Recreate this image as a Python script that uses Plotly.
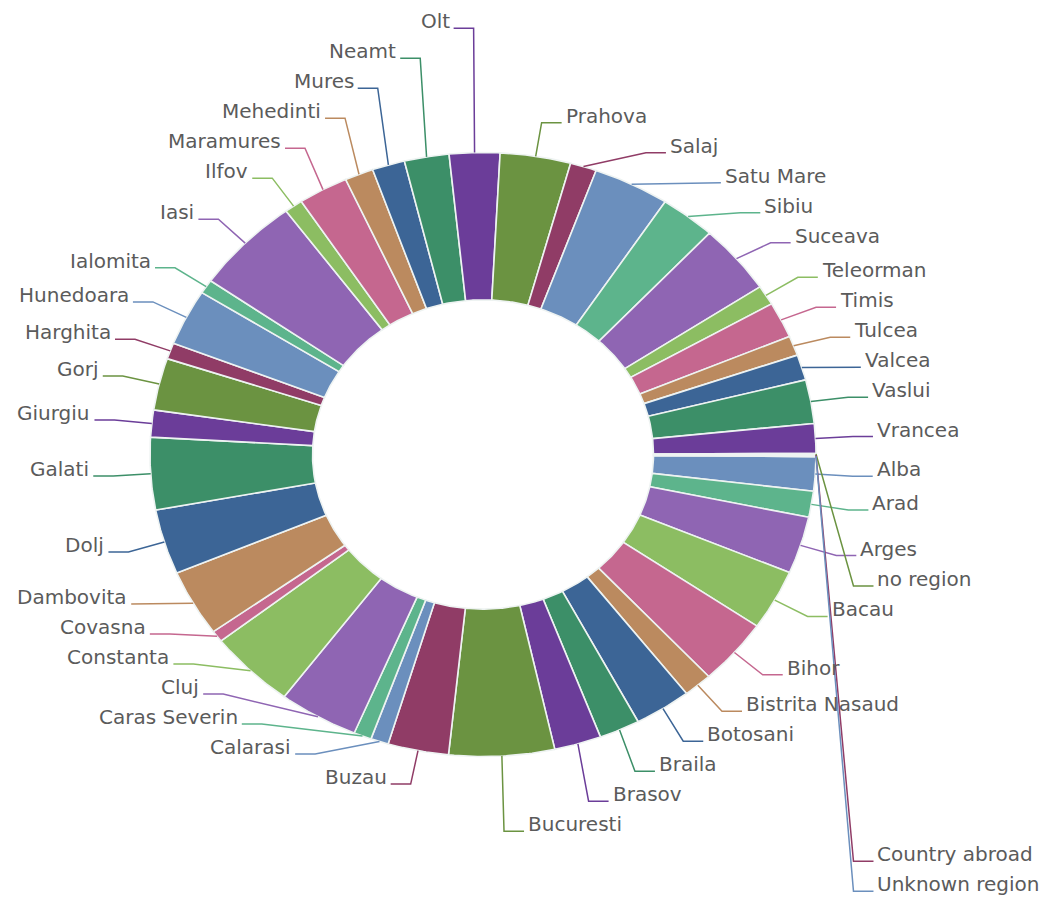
import math
import plotly.graph_objects as go

# ---------------- data ----------------
regions = ["Alba", "Arad", "Arges", "Bacau", "Bihor", "Bistrita Nasaud", "Botosani",
           "Braila", "Brasov", "Bucuresti", "Buzau", "Calarasi", "Caras Severin", "Cluj",
           "Constanta", "Covasna", "Dambovita", "Dolj", "Galati", "Giurgiu", "Gorj",
           "Harghita", "Hunedoara", "Ialomita", "Iasi", "Ilfov", "Maramures", "Mehedinti",
           "Mures", "Neamt", "Olt", "Prahova", "Salaj", "Satu Mare", "Sibiu", "Suceava",
           "Teleorman", "Timis", "Tulcea", "Valcea", "Vaslui", "Vrancea",
           "no region", "Country abroad", "Unknown region"]
counts = [66, 50, 110, 116, 127, 50, 99, 71, 82, 184, 106, 31, 31, 139, 152, 22, 128,
          125, 139, 52, 100, 31, 108, 27, 186, 32, 87, 50, 57, 78, 88, 123, 46, 133, 97,
          134, 38, 69, 38, 49, 84, 57, 2, 2, 2]
palette = ["#6b8fbd", "#5db48c", "#8f65b3", "#8cbd62", "#c5678f", "#bb8a5f",
           "#3c6596", "#3c8f68", "#6b3d99", "#6b9341", "#903c66"]

# ---------------- geometry (page pixels) ----------------
CX, CY = 483.0, 454.5          # ring centre
RX, RY = 333.0, 302.0          # outer radii
HOLE = 0.512                   # inner / outer
RLY = 336.0                    # label radius (vertical)
RLX = RLY * RX / RY            # label radius (horizontal)
START = 0.4                    # start angle, degrees clockwise from 3 o'clock
GAP = 30.0                     # min vertical spacing of labels
SEG = 20.0                     # horizontal leader segment
TINY = 0.002                   # share under which a label is placed in free space

total = float(sum(counts))
colors = [palette[i % len(palette)] for i in range(len(regions))]

fig = go.Figure()

# slices
bounds = []
acc = START
for v in counts:
    a0 = acc
    a1 = acc + v / total * 360.0
    bounds.append((a0, a1))
    acc = a1

for i, (name, v) in enumerate(zip(regions, counts)):
    a0, a1 = bounds[i]
    n = max(2, int((a1 - a0) / 0.5) + 2)
    xs, ys = [], []
    for k in range(n):
        t = math.radians(a0 + (a1 - a0) * k / (n - 1))
        xs.append(CX + RX * math.cos(t))
        ys.append(CY + RY * math.sin(t))
    for k in range(n):
        t = math.radians(a1 - (a1 - a0) * k / (n - 1))
        xs.append(CX + RX * HOLE * math.cos(t))
        ys.append(CY + RY * HOLE * math.sin(t))
    xs.append(xs[0]); ys.append(ys[0])
    fig.add_trace(go.Scatter(
        x=xs, y=ys, mode="lines", fill="toself", fillcolor=colors[i],
        line=dict(color="#eef3f2", width=1.6), name=name, hoveron="fills",
        text=f"{name}: {v}", hoverinfo="text", showlegend=False))

# label layout
info = []
for i, v in enumerate(counts):
    a0, a1 = bounds[i]
    m = math.radians((a0 + a1) / 2)
    c, s = math.cos(m), math.sin(m)
    info.append(dict(i=i, c=c, s=s, xn=CX + RLX * c, yn=CY + RLY * s,
                     right=c >= 0, tiny=v / total < TINY))

right = sorted([d for d in info if d["right"] and not d["tiny"]], key=lambda d: d["yn"])
left = sorted([d for d in info if not d["right"] and not d["tiny"]], key=lambda d: -d["yn"])
prev = None
for d in right:
    d["y"] = d["yn"] if prev is None else max(d["yn"], prev + GAP)
    prev = d["y"]
prev = None
for d in left:
    d["y"] = d["yn"] if prev is None else min(d["yn"], prev - GAP)
    prev = d["y"]

for d in [d for d in info if d["tiny"]]:
    side = right if d["right"] else left
    side.sort(key=lambda e: e["y"])
    best = None
    for a, b in zip(side[:-1], side[1:]):
        if b["y"] - a["y"] >= 2 * GAP:
            mid = (a["y"] + b["y"]) / 2
            if best is None or abs(mid - d["yn"]) < abs(best - d["yn"]):
                best = mid
    if best is None:
        best = side[-1]["y"] + GAP if d["right"] else side[0]["y"] - GAP
    d["y"] = best
    side.append(d)

annotations = []
for d in info:
    i = d["i"]
    y = d["y"]
    dy = (y - CY) / RLY
    ex = RLX * math.sqrt(1 - dy * dy) if abs(dy) < 1 else 0.0
    if d["right"]:
        xe = max(d["xn"], CX + ex)
        xend = xe + SEG
    else:
        xe = min(d["xn"], CX - ex)
        xend = xe - SEG
    x0 = CX + RX * d["c"]
    y0 = CY + RY * d["s"]
    fig.add_trace(go.Scatter(
        x=[x0, xe, xend], y=[y0, y, y], mode="lines",
        line=dict(color=colors[i], width=1.5), hoverinfo="skip", showlegend=False))
    annotations.append(dict(
        x=xend + (2 if d["right"] else -2), y=y, xref="x", yref="y",
        text=regions[i], showarrow=False,
        xanchor="left" if d["right"] else "right", yanchor="middle", yshift=7,
        font=dict(family="DejaVu Sans", size=20, color="#5b5b5b")))

fig.update_layout(
    margin=dict(l=0, r=0, t=0, b=0),
    paper_bgcolor="white", plot_bgcolor="white",
    showlegend=False, hovermode="closest",
    annotations=annotations,
    xaxis=dict(range=[8, 1048], visible=False, fixedrange=True),
    yaxis=dict(range=[899, 8], visible=False, fixedrange=True),
)

fig.write_html("out.html")
